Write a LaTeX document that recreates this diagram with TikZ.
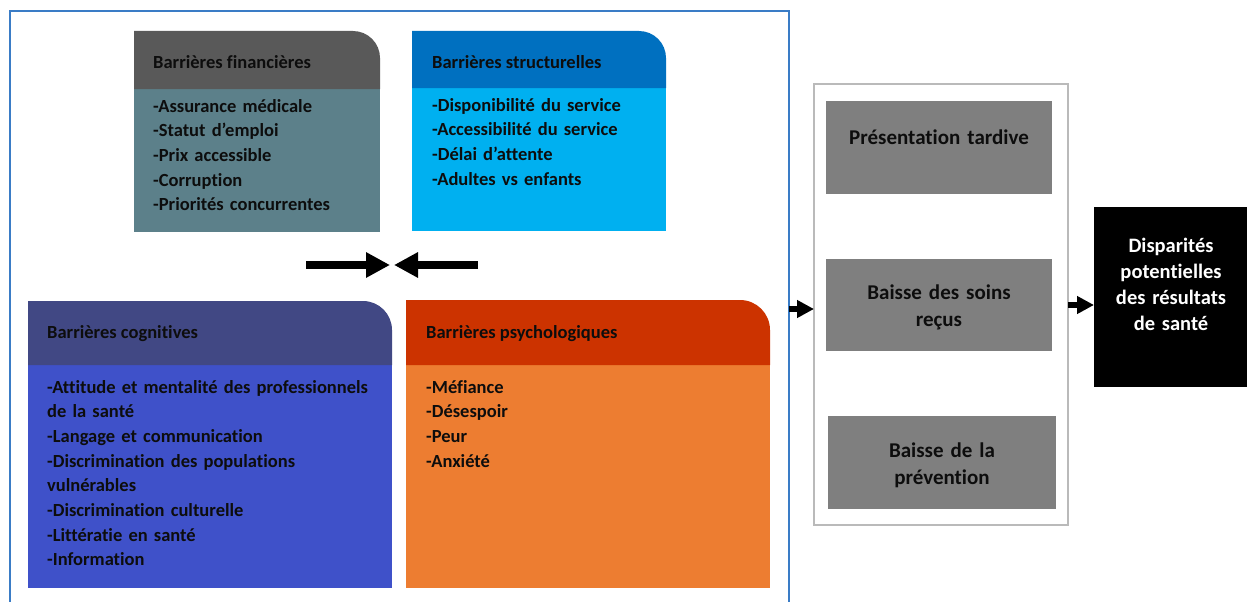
\documentclass[tikz,border=0pt]{standalone}
\usepackage{fontspec}
\setmainfont{Carlito}[Ligatures=NoCommon]
\usetikzlibrary{arrows.meta}

\definecolor{ink}{HTML}{0D0D0D}
\definecolor{framebl}{HTML}{3A7CC6}
\definecolor{framegray}{HTML}{BABABA}
\definecolor{boxgray}{HTML}{7F7F7F}
\definecolor{finhead}{HTML}{595959}
\definecolor{finbody}{HTML}{5C808A}
\definecolor{strhead}{HTML}{0070C0}
\definecolor{strbody}{HTML}{00B0F0}
\definecolor{coghead}{HTML}{414884}
\definecolor{cogbody}{HTML}{3F51C9}
\definecolor{psyhead}{HTML}{CC3300}
\definecolor{psybody}{HTML}{ED7D31}

\tikzset{
  panel/.style={anchor=north west, inner sep=0pt, outer sep=0pt},
  title/.style={anchor=base west, inner sep=0pt,
    font=\fontsize{18.5}{24.7}\selectfont\bfseries, text=ink},
  items/.style={anchor=base west, inner sep=0pt, text width=340pt, align=left,
    font=\fontsize{18.5}{24.7}\selectfont\bfseries, text=ink},
  result/.style={panel, fill=boxgray},
  resulttext/.style={anchor=base, inner sep=0pt, text width=220pt, align=center,
    font=\fontsize{21}{27.5}\selectfont\bfseries, text=ink},
  outtext/.style={anchor=base, inner sep=0pt, text width=150pt, align=center,
    font=\fontsize{20.5}{26}\selectfont\bfseries, text=white},
  bigarrow/.style={line width=8pt, -{Triangle[length=24pt,width=24pt]}},
  linkarrow/.style={line width=6pt, -{Triangle[length=17pt,width=17pt]}},
}

\begin{document}
\begin{tikzpicture}[x=1pt,y=-1pt]
\useasboundingbox (0,0) rectangle (1247,602);
\clip (0,0) rectangle (1247,602);

% outer frame around the four barrier groups (open at the bottom edge)
\node[panel, draw=framebl, line width=2.5pt, minimum width=779pt, minimum height=640pt] (outer) at (10,11) {};

% financial barriers
\node[panel, fill=finbody, minimum width=246pt, minimum height=143pt] (fin) at (134,89) {};
\fill[finhead] (134,89) -- (134,31) -- (353,31) arc[start angle=-90,end angle=0,radius=27] -- (380,89) -- cycle;
\node[title] (finT) at (153,68) {Barrières financières};
\node[items] (finL) at (153,112) {-Assurance médicale\\-Statut d’emploi\\-Prix accessible\\-Corruption\\-Priorités concurrentes};

% structural barriers
\node[panel, fill=strbody, minimum width=254pt, minimum height=143pt] (str) at (412,88) {};
\fill[strhead] (412,88) -- (412,31) -- (639,31) arc[start angle=-90,end angle=0,radius=27] -- (666,88) -- cycle;
\node[title] (strT) at (432,68) {Barrières structurelles};
\node[items] (strL) at (432,111) {-Disponibilité du service\\-Accessibilité du service\\-Délai d’attente\\-Adultes vs enfants};

% cognitive barriers
\node[panel, fill=cogbody, minimum width=364pt, minimum height=223pt] (cog) at (28,365) {};
\fill[coghead] (28,365) -- (28,301) -- (363,301) arc[start angle=-90,end angle=0,radius=29] -- (392,365) -- cycle;
\node[title] (cogT) at (47,338) {Barrières cognitives};
\node[items] (cogL) at (47,393) {-Attitude et mentalité des professionnels\\de la santé\\-Langage et communication\\-Discrimination des populations\\vulnérables\\-Discrimination culturelle\\-Littératie en santé\\-Information};

% psychological barriers
\node[panel, fill=psybody, minimum width=364pt, minimum height=223pt] (psy) at (406,365) {};
\fill[psyhead] (406,365) -- (406,300) -- (740,300) arc[start angle=-90,end angle=0,radius=30] -- (770,365) -- cycle;
\node[title] (psyT) at (426,338) {Barrières psychologiques};
\node[items] (psyL) at (426,393) {-Méfiance\\-Désespoir\\-Peur\\-Anxiété};

% converging arrows between the two rows
\coordinate (leftTail) at (306,265);
\coordinate (leftTip) at (390,265);
\coordinate (rightTail) at (478,265);
\coordinate (rightTip) at (394,265);
\draw[bigarrow] (leftTail) -- (leftTip);
\draw[bigarrow] (rightTail) -- (rightTip);

% consequences
\node[panel, draw=framegray, line width=2.5pt, minimum width=254pt, minimum height=441pt] (gframe) at (814,84) {};
\node[result, minimum width=226pt, minimum height=93pt] (late) at (826,101) {};
\node[resulttext] (lateT) at (939,144) {Présentation tardive};
\node[result, minimum width=226pt, minimum height=92pt] (care) at (826,259) {};
\node[resulttext] (careT) at (939,299) {Baisse des soins\\reçus};
\node[result, minimum width=228pt, minimum height=93pt] (prev) at (828,416) {};
\node[resulttext] (prevT) at (942,457) {Baisse de la\\prévention};

% outcome
\node[panel, fill=black, minimum width=153pt, minimum height=180pt] (out) at (1094,207) {};
\node[outtext] (outT) at (1171,252) {Disparités\\potentielles\\des résultats\\de santé};

% links
\draw[linkarrow] (outer.east |- 0,309) -- (gframe.west |- 0,309);
\draw[linkarrow] (gframe.east |- 0,305) -- (out.west |- 0,305);
\end{tikzpicture}
\end{document}
